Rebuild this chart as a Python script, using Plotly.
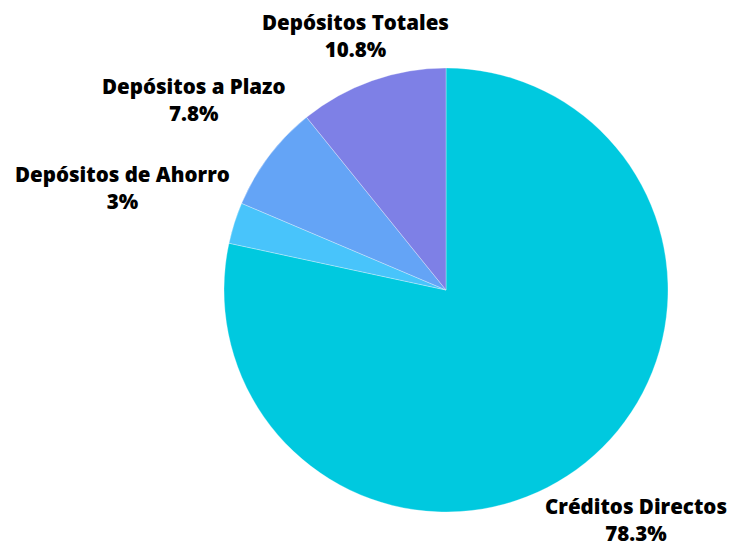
import math
import plotly.graph_objects as go

labels = ["Créditos Directos", "Depósitos de Ahorro", "Depósitos a Plazo", "Depósitos Totales"]
values = [78.3, 3.0, 7.8, 10.8]
colors = ["#00C9DF", "#48C4FB", "#64A4F6", "#7E80E6"]

fig = go.Figure(go.Pie(
    labels=labels,
    values=values,
    sort=False,
    direction="clockwise",
    rotation=0,
    marker=dict(colors=colors, line=dict(color="rgba(255,255,255,0.6)", width=0.5)),
    textinfo="none",
    showlegend=False,
    hoverinfo="label+value",
    automargin=False,
))

# Outside labels placed along each slice's mid-angle (computed from the data)
label_radius = 240      # px from pie centre to where the label box starts
char_w = 10.9           # approx. px per character at this font size
half_h = 28             # half height of a two-line label
max_up = 255            # keep labels inside the top edge
max_down = 229          # keep labels inside the bottom edge
total = sum(values)
cum = 0.0
annotations = []
for lab, val in zip(labels, values):
    frac = (cum + val / 2) / total
    cum += val
    ang = 2 * math.pi * frac
    dx, dy = math.sin(ang), math.cos(ang)  # screen x right, y up
    half_w = len(lab) * char_w / 2
    d = label_radius + math.hypot(dx * half_w, dy * half_h)
    if dy * d > max_up:
        d = max_up / dy
    sx, sy = dx * d, dy * d
    sy = max(sy, -max_down)
    annotations.append(dict(
        x=0.5, y=0.5, xref="paper", yref="paper",
        xshift=sx, yshift=sy,
        xanchor="center", yanchor="middle",
        text=f"{lab}<br>{val:g}%",
        showarrow=False,
        align="center",
        font=dict(family="Open Sans", size=20.5, color="#000000", weight=800),
    ))

fig.update_layout(
    width=730, height=542,
    margin=dict(l=224, r=62, t=68, b=30),
    paper_bgcolor="white",
    plot_bgcolor="white",
    annotations=annotations,
)

fig.write_html(
    "out.html",
    config={"displayModeBar": False},
    post_script="document.body.style.margin='0';document.body.style.overflow='hidden';",
)
